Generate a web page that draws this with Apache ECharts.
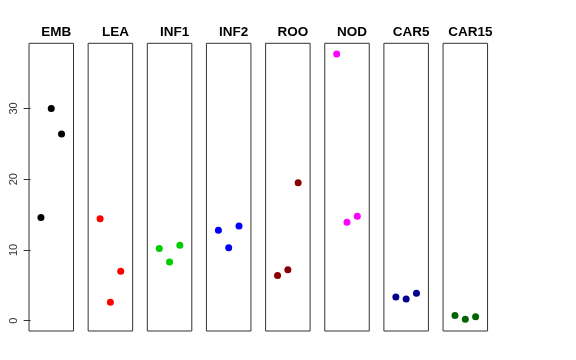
<!DOCTYPE html>
<html><head><meta charset="utf-8">
<script src="https://cdn.jsdelivr.net/npm/echarts@6/dist/echarts.min.js"></script>
<style>html,body{margin:0;padding:0;background:#fff}#c{width:576px;height:360px}</style>
</head><body><div id="c"></div>
<script>
var panels = ['EMB','LEA','INF1','INF2','ROO','NOD','CAR5','CAR15'];
var colors = ['#000000','#FF0000','#00CD00','#0000FF','#8B0000','#FF00FF','#00008B','#006400'];
var xPos = [1, 2, 3];
var EMB = [14.6, 30.0, 26.4];
var LEA = [14.4, 2.6, 7.0];
var INF1 = [10.2, 8.3, 10.65];
var INF2 = [12.8, 10.3, 13.4];
var ROO = [6.4, 7.2, 19.5];
var NOD = [37.7, 13.9, 14.75];
var CAR5 = [3.35, 3.07, 3.9];
var CAR15 = [0.75, 0.2, 0.57];
var yTicks = [0, 10, 20, 30];
var values = [EMB, LEA, INF1, INF2, ROO, NOD, CAR5, CAR15];

var chart = echarts.init(document.getElementById('c'));
var grids = [], xAxes = [], yAxes = [], series = [], titles = [];
var L0 = 29, step = 59.15, W = 44.5, TOP = 43.3, H = 287.7;
panels.forEach(function(p, i){
  var left = L0 + i*step;
  grids.push({left: left, top: TOP, width: W, height: H, show: true, borderColor: '#333', borderWidth: 1, backgroundColor: 'transparent'});
  xAxes.push({type: 'value', gridIndex: i, min: -0.16, max: 4.16, show: false});
  yAxes.push({type: 'value', gridIndex: i, min: -1.45, max: 39.2, splitLine: {show: false},
    axisLine: {show: false},
    axisTick: {show: i === 0, inside: false, length: 7, customValues: yTicks, lineStyle: {color: '#333'}},
    axisLabel: {show: i === 0, customValues: yTicks, rotate: 90, margin: 10, fontSize: 11, color: '#333', fontFamily: 'Liberation Sans, Arial, sans-serif'}
  });
  titles.push({text: p, left: left + W/2, top: 20, textAlign: 'center',
    textStyle: {fontSize: 13.5, fontWeight: 'bold', color: '#000', fontFamily: 'Liberation Sans, Arial, sans-serif'}});
  series.push({type: 'scatter', xAxisIndex: i, yAxisIndex: i, symbol: 'circle', symbolSize: 7,
    itemStyle: {color: colors[i], opacity: 1}, silent: true,
    data: xPos.map(function(x, k){ return [x, values[i][k]]; })});
});
chart.setOption({animation: false, title: titles, grid: grids, xAxis: xAxes, yAxis: yAxes, series: series});
</script></body></html>
